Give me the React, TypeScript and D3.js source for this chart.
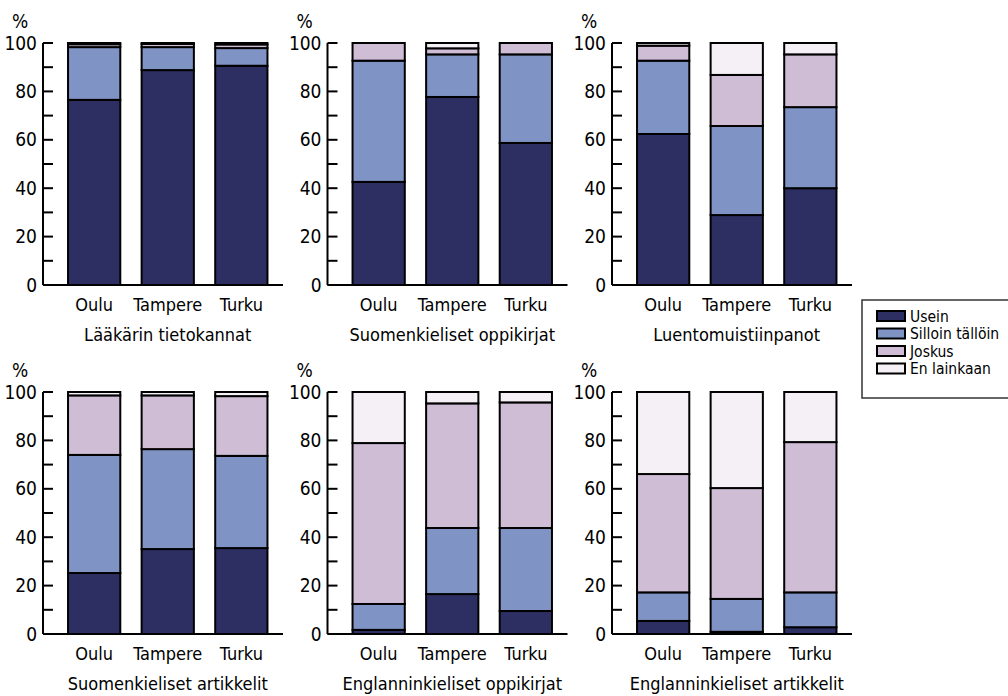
import React, { useEffect, useRef } from "react";
import * as d3 from "d3";

const cities = ["Oulu", "Tampere", "Turku"];
const series = ["Usein", "Silloin tällöin", "Joskus", "En lainkaan"];
const colors = ["#2d2f63", "#7f93c5", "#cfbdd6", "#f5f0f5"];
const yTicks = [0, 20, 40, 60, 80, 100];

const titles = [
  "Lääkärin tietokannat",
  "Suomenkieliset oppikirjat",
  "Luentomuistiinpanot",
  "Suomenkieliset artikkelit",
  "Englanninkieliset oppikirjat",
  "Englanninkieliset artikkelit",
];

// values per panel: [Usein, Silloin tällöin, Joskus, En lainkaan] for Oulu, Tampere, Turku
const tietokannat = [
  [76.5, 21.8, 1.2, 0.5],
  [88.8, 9.5, 1.3, 0.4],
  [90.6, 7.3, 1.5, 0.6],
];
const suomiOppikirjat = [
  [42.6, 50.1, 7.3, 0],
  [77.7, 17.6, 2.5, 2.2],
  [58.7, 36.6, 4.7, 0],
];
const muistiinpanot = [
  [62.4, 30.3, 6.2, 1.1],
  [28.9, 36.8, 21.1, 13.2],
  [40.0, 33.5, 21.8, 4.7],
];
const suomiArtikkelit = [
  [25.2, 48.8, 24.6, 1.4],
  [35.1, 41.3, 22.2, 1.4],
  [35.5, 38.1, 24.7, 1.7],
];
const englantiOppikirjat = [
  [1.7, 10.7, 66.5, 21.1],
  [16.5, 27.3, 51.5, 4.7],
  [9.5, 34.3, 51.9, 4.3],
];
const englantiArtikkelit = [
  [5.4, 11.8, 48.9, 33.9],
  [0.9, 13.6, 45.8, 39.7],
  [2.8, 14.4, 62.1, 20.7],
];

const panelData = [
  tietokannat,
  suomiOppikirjat,
  muistiinpanot,
  suomiArtikkelit,
  englantiOppikirjat,
  englantiArtikkelit,
];

const FONT = "'Liberation Sans Narrow', 'DejaVu Sans Condensed', 'Open Sans', sans-serif";

export default function App() {
  const ref = useRef<SVGSVGElement>(null);

  useEffect(() => {
    const svg = d3.select(ref.current);
    svg.selectAll("*").remove();

    const plotH = 242;
    const plotW = 240;

    panelData.forEach((rows, i) => {
      const col = i % 3;
      const row = Math.floor(i / 3);
      const axisX = 43 + col * 284.5;
      const baseY = row === 0 ? 285 : 634;

      const g = svg.append("g").attr("transform", `translate(${axisX},${baseY - plotH})`);

      const x = d3
        .scaleBand<string>()
        .domain(cities)
        .range([14, 235.5])
        .paddingInner(0.29)
        .paddingOuter(0.15);
      const y = d3.scaleLinear().domain([0, 100]).range([plotH, 0]);

      const table = rows.map((vals, ci) => {
        const obj: any = { city: cities[ci] };
        series.forEach((s, si) => (obj[s] = vals[si]));
        return obj;
      });
      const stacked = d3.stack<any>().keys(series)(table);

      // bars
      stacked.forEach((layer, si) => {
        g.selectAll(`.bar${si}`)
          .data(layer)
          .enter()
          .append("rect")
          .attr("x", (d: any) => x(d.data.city)!)
          .attr("y", (d) => y(d[1]))
          .attr("width", x.bandwidth())
          .attr("height", (d) => Math.max(0, y(d[0]) - y(d[1])))
          .attr("fill", colors[si])
          .attr("stroke", "#000")
          .attr("stroke-width", 2);
      });

      // y axis: vertical line with inward ticks
      g.append("line")
        .attr("x1", 0)
        .attr("x2", 0)
        .attr("y1", y(100))
        .attr("y2", y(0))
        .attr("stroke", "#000")
        .attr("stroke-width", 2);
      g.selectAll(".tick")
        .data(d3.range(0, 101, 10))
        .enter()
        .append("line")
        .attr("x1", 0)
        .attr("x2", 10)
        .attr("y1", (d) => y(d))
        .attr("y2", (d) => y(d))
        .attr("stroke", "#000")
        .attr("stroke-width", 2);
      g.selectAll(".ylab")
        .data(yTicks)
        .enter()
        .append("text")
        .attr("x", -6)
        .attr("y", (d) => y(d) + 6.5)
        .attr("text-anchor", "end")
        .attr("font-family", FONT)
        .attr("font-size", 19)
        .text((d) => d);
      g.append("text")
        .attr("x", -23)
        .attr("y", -15)
        .attr("text-anchor", "middle")
        .attr("font-family", FONT)
        .attr("font-size", 19)
        .text("%");

      // x axis line
      g.append("line")
        .attr("x1", 0)
        .attr("x2", plotW)
        .attr("y1", plotH)
        .attr("y2", plotH)
        .attr("stroke", "#000")
        .attr("stroke-width", 2);
      g.selectAll(".xlab")
        .data(cities)
        .enter()
        .append("text")
        .attr("x", (d) => x(d)! + x.bandwidth() / 2)
        .attr("y", plotH + 26)
        .attr("text-anchor", "middle")
        .attr("font-family", FONT)
        .attr("font-size", 18)
        .text((d) => d);
      g.append("text")
        .attr("x", x("Tampere")! + x.bandwidth() / 2)
        .attr("y", plotH + 56)
        .attr("text-anchor", "middle")
        .attr("font-family", FONT)
        .attr("font-size", 18)
        .text(titles[i]);
    });

    // legend
    const lg = svg.append("g").attr("transform", "translate(862,300)");
    lg.append("rect")
      .attr("x", 0)
      .attr("y", 0)
      .attr("width", 170)
      .attr("height", 98)
      .attr("fill", "#fff")
      .attr("stroke", "#333")
      .attr("stroke-width", 1.5);
    series.forEach((s, si) => {
      const cy = 16 + si * 17.5;
      lg.append("rect")
        .attr("x", 15)
        .attr("y", cy - 5)
        .attr("width", 28)
        .attr("height", 10)
        .attr("fill", colors[si])
        .attr("stroke", "#000")
        .attr("stroke-width", 2);
      lg.append("text")
        .attr("x", 48)
        .attr("y", cy + 5.5)
        .attr("font-family", FONT)
        .attr("font-size", 15.5)
        .text(s);
    });
  }, []);

  return (
    <svg
      ref={ref}
      width={1008}
      height={696}
      style={{ position: "absolute", left: 0, top: 0, background: "#fff" }}
    />
  );
}
